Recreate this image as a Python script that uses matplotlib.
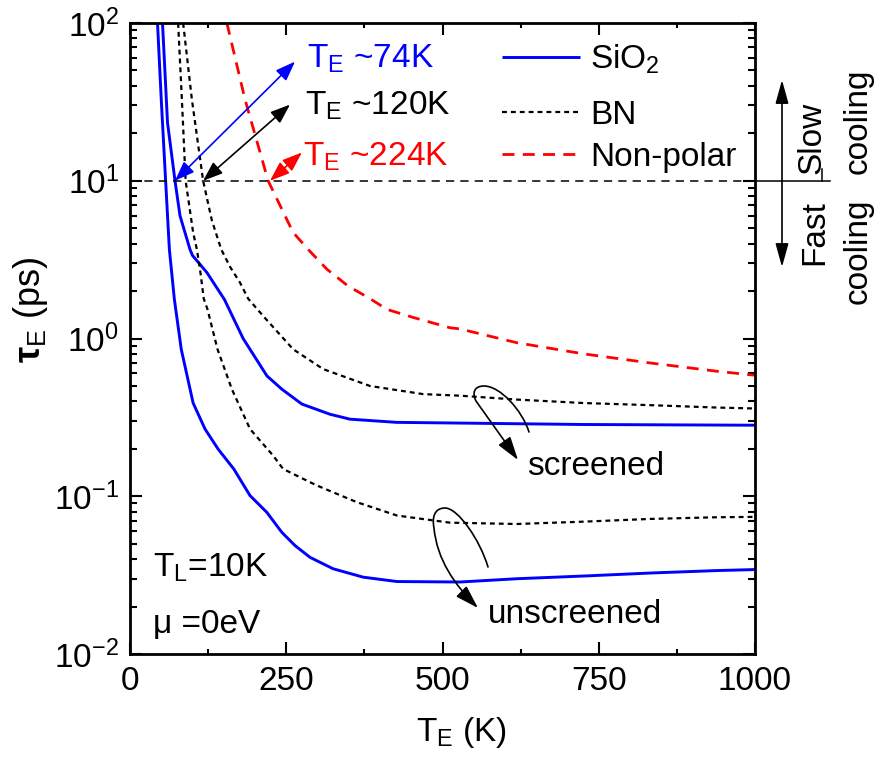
import matplotlib
matplotlib.use("Agg")
import matplotlib.pyplot as plt
from matplotlib.lines import Line2D
from matplotlib.patches import FancyArrowPatch, ArrowStyle
from matplotlib.path import Path
import numpy as np

plt.rcParams['font.family'] = ['Liberation Sans', 'DejaVu Sans']
plt.rcParams['mathtext.fontset'] = 'custom'
plt.rcParams['mathtext.rm'] = 'Liberation Sans'
plt.rcParams['mathtext.it'] = 'Liberation Sans:italic'
plt.rcParams['mathtext.bf'] = 'Liberation Sans:bold'
plt.rcParams['axes.unicode_minus'] = False

# ---------------- data ----------------
T_sio2_scr = [52, 60, 72, 80, 96, 100, 123, 151, 181, 219, 243, 275, 320, 352, 427, 528, 725, 1000]
tau_sio2_scr = [100, 23.4, 10, 6.0, 3.67, 3.36, 2.62, 1.77, 1.0, 0.58, 0.477, 0.384, 0.331, 0.308,
                0.294, 0.291, 0.285, 0.282]

T_sio2_uns = [44, 50, 57, 63, 71, 82, 101, 120, 141, 166, 192, 219, 243, 264, 288, 325, 373, 427,
              528, 619, 725, 832, 939, 1000]
tau_sio2_uns = [100, 32.8, 10, 3.67, 1.77, 0.855, 0.39, 0.267, 0.199, 0.149, 0.101, 0.079, 0.059,
                0.0487, 0.041, 0.0347, 0.0307, 0.0288, 0.0286, 0.030, 0.0312, 0.0326, 0.0338, 0.0343]

T_bn_scr = [85, 99, 117, 131, 146, 160, 176, 189, 213, 261, 309, 384, 469, 528, 619, 725, 832, 939, 1000]
tau_bn_scr = [100, 32.8, 10, 5.6, 3.67, 2.85, 2.26, 1.79, 1.39, 0.855, 0.64, 0.50, 0.444, 0.434, 0.41,
              0.39, 0.378, 0.365, 0.36]

T_bn_uns = [77, 83, 89, 101, 107, 112, 118, 124, 140, 163, 192, 229, 245, 277, 299, 363, 427, 512,
            619, 725, 832, 939, 1000]
tau_bn_uns = [100, 32.8, 10, 4.7, 3.67, 2.75, 1.79, 1.53, 0.855, 0.477, 0.267, 0.181, 0.149, 0.129,
              0.117, 0.0917, 0.0755, 0.068, 0.0667, 0.069, 0.0718, 0.0736, 0.074]

T_np = [155, 184, 221, 261, 285, 315, 349, 384, 411, 453, 512, 528, 619, 725, 832, 939, 1000]
tau_np = [100, 32.8, 10, 4.7, 3.67, 2.75, 2.15, 1.79, 1.53, 1.36, 1.17, 1.15, 0.94, 0.80, 0.70,
          0.62, 0.585]

series_labels = [r"SiO$_\mathregular{2}$", "BN", "Non-polar"]
tau_threshold = 10
crossings = [(72, "~74K", "blue"), (117, "~120K", "black"), (224, "~224K", "red")]

# ---------------- figure ----------------
W, H = 881, 765
fig = plt.figure(figsize=(W / 100, H / 100), dpi=100)
ax = fig.add_axes([130 / W, 1 - 654 / H, 625 / W, 631 / H])


def P(x, y):
    return (x / W, 1 - y / H)


blue_kw = dict(color='#0000ff', lw=2.1, solid_capstyle='butt')
bn_kw = dict(color='black', lw=1.6, linestyle=(0, (2.2, 1.8)))
np_kw = dict(color='#ff0000', lw=2.0, linestyle=(0, (4.3, 3.0)))

ax.plot(T_sio2_scr, tau_sio2_scr, **blue_kw)
ax.plot(T_sio2_uns, tau_sio2_uns, **blue_kw)
ax.plot(T_bn_scr, tau_bn_scr, **bn_kw)
ax.plot(T_bn_uns, tau_bn_uns, **bn_kw)
ax.plot(T_np, tau_np, **np_kw)

ax.axhline(tau_threshold, color='black', lw=1.1, linestyle=(0, (5.4, 4.0)))

ax.set_yscale('log')
ax.set_xlim(0, 1000)
ax.set_ylim(1e-2, 1e2)
ax.set_xticks([0, 250, 500, 750, 1000])
ax.set_xticks([125, 375, 625, 875], minor=True)

for s in ax.spines.values():
    s.set_linewidth(2.0)
ax.tick_params(which='both', direction='in', top=True, right=True, width=1.5)
ax.tick_params(which='major', length=8.5, labelsize=24)
ax.tick_params(axis='x', which='major', pad=9)
ax.tick_params(axis='y', which='major', pad=8)
ax.tick_params(axis='x', which='minor', length=3.5)
ax.tick_params(axis='y', which='minor', length=5)

ax.set_xlabel(r"T$_\mathregular{E}$ (K)", fontsize=24)
ax.xaxis.set_label_coords((461 - 130) / 625, (654 - 733) / 631)
ax.xaxis.label.set_va('center')
ax.set_ylabel(r"$\mathbf{\tau}_\mathregular{E}$ (ps)", fontsize=26)
ax.yaxis.set_label_coords((30 - 130) / 625, (654 - 310) / 631)
ax.yaxis.label.set_va('center')

# legend (drawn by hand to match the row positions)
legend_rows = [(57, blue_kw), (112, bn_kw), (154, np_kw)]
for (yy, kw), lab in zip(legend_rows, series_labels):
    fig.add_artist(Line2D([502 / W, 580 / W], [1 - yy / H, 1 - yy / H],
                          transform=fig.transFigure, **kw))
    fig.text(*P(590, yy + 12), lab, fontsize=24, ha='left', va='baseline')

# crossing arrows and labels
arrow_st = ArrowStyle('<|-|>', head_length=0.75, head_width=0.28)
ends = [(264, 56.9), (256, 30.4), (275, 15.1)]
text_pos = [(307, 68), (305, 115), (303, 166)]
for (tc, lab, col), (xe, ye), (tx, ty) in zip(crossings, ends, text_pos):
    ax.annotate('', xy=(xe, ye), xytext=(tc, tau_threshold),
                arrowprops=dict(arrowstyle=arrow_st, color=col, lw=1.2, mutation_scale=16,
                                shrinkA=0, shrinkB=0))
    fig.text(*P(tx, ty), r"T$_\mathregular{E}$ " + lab, color=col, fontsize=24,
             ha='left', va='baseline')

# slow / fast cooling indicator on the right
fig.add_artist(Line2D([755 / W, 830 / W], [1 - 181 / H, 1 - 181 / H], color='black', lw=1.1,
                      transform=fig.transFigure))
fig.add_artist(Line2D([822 / W, 822 / W], [1 - 169 / H, 1 - 181 / H], color='black', lw=1.1,
                      transform=fig.transFigure))
fig.add_artist(FancyArrowPatch(P(782, 267), P(782, 80), transform=fig.transFigure,
                               arrowstyle=ArrowStyle('<|-|>', head_length=0.9, head_width=0.25),
                               mutation_scale=16, color='black', lw=1.2, shrinkA=0, shrinkB=0))
fig.text(*P(812, 174), "Slow", rotation=90, fontsize=24, ha='center', va='bottom')
fig.text(*P(858, 174), "cooling", rotation=90, fontsize=24, ha='center', va='bottom')
fig.text(*P(815, 200), "Fast", rotation=90, fontsize=24, ha='center', va='top')
fig.text(*P(858, 198), "cooling", rotation=90, fontsize=24, ha='center', va='top')


# looped pointers
def loop(pts, codes):
    verts = [P(x, y) for x, y in pts]
    return Path(verts, codes)


C4, M, L = Path.CURVE4, Path.MOVETO, Path.LINETO
scr_path = loop([(529, 432), (522, 410), (500, 386), (484, 386),
                 (474, 386), (472, 393), (476, 401),
                 (518, 460)],
                [M, C4, C4, C4, C4, C4, C4, L])
uns_path = loop([(488, 567), (480, 540), (458, 508), (445, 508),
                 (434, 508), (432, 518), (434, 528),
                 (437, 560), (455, 585), (478, 608)],
                [M, C4, C4, C4, C4, C4, C4, C4, C4, C4])
for pth in (scr_path, uns_path):
    fig.add_artist(FancyArrowPatch(path=pth, transform=fig.transFigure,
                                   arrowstyle=ArrowStyle('-|>', head_length=0.9, head_width=0.28),
                                   mutation_scale=16, color='black', lw=1.2,
                                   shrinkA=0, shrinkB=0))

fig.text(*P(527, 475), "screened", fontsize=24, ha='left', va='baseline')
fig.text(*P(488, 623), "unscreened", fontsize=24, ha='left', va='baseline')
fig.text(*P(153, 577), r"T$_\mathregular{L}$=10K", fontsize=24, ha='left', va='baseline')
fig.text(*P(153, 633), "\u03bc =0eV", fontsize=24, ha='left', va='baseline')

fig.savefig("out.png", dpi=100)
